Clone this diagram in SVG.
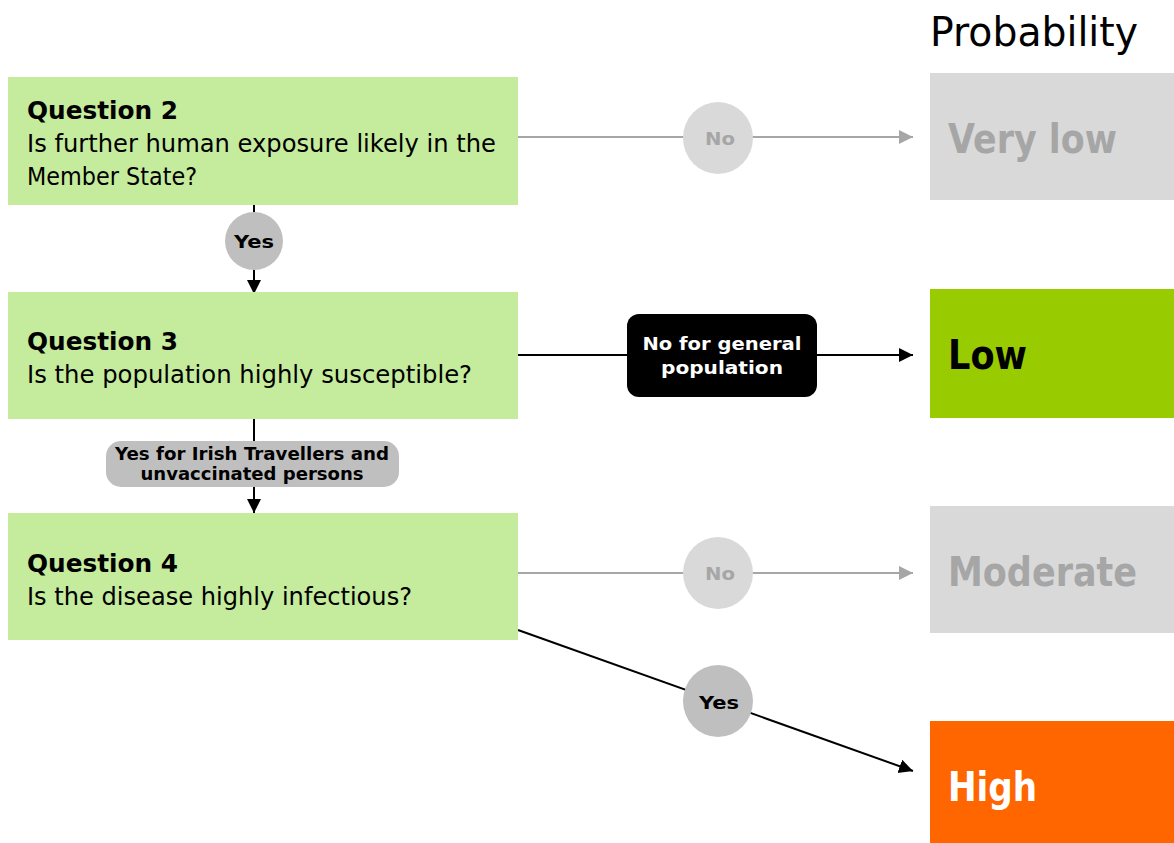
<svg xmlns="http://www.w3.org/2000/svg" width="1174" height="843" viewBox="0 0 1174 843">
<style>
text{font-family:"DejaVu Sans","Noto Sans",sans-serif;}
.q{fill:#c5eb9d;}
.qt{font-size:25px;font-weight:bold;fill:#000;}
.qb{font-size:25px;fill:#000;}
.res{font-size:40px;font-weight:bold;}
.lbl{font-size:18px;font-weight:bold;text-anchor:middle;}
.blk{stroke:#000;stroke-width:2;fill:none;}
.gry{stroke:#a6a6a6;stroke-width:2;fill:none;}
</style>
<defs>
<marker id="ab" markerWidth="16" markerHeight="16" refX="14" refY="7" orient="auto" markerUnits="userSpaceOnUse"><path d="M0,0 L14,7 L0,14 Z" fill="#000"/></marker>
<marker id="ag" markerWidth="16" markerHeight="16" refX="14" refY="7" orient="auto" markerUnits="userSpaceOnUse"><path d="M0,0 L14,7 L0,14 Z" fill="#a6a6a6"/></marker>
</defs>
<rect width="1174" height="843" fill="#fff"/>
<text x="930" y="46" font-size="40" textLength="208" lengthAdjust="spacingAndGlyphs">Probability</text>

<g id="connectors">
<line class="gry" x1="518" y1="137" x2="913" y2="137" marker-end="url(#ag)"/>
<line class="blk" x1="254" y1="205" x2="254" y2="294" marker-end="url(#ab)"/>
<line class="blk" x1="518" y1="355" x2="913" y2="355" marker-end="url(#ab)"/>
<line class="blk" x1="254" y1="419" x2="254" y2="513" marker-end="url(#ab)"/>
<line class="gry" x1="518" y1="573" x2="913" y2="573" marker-end="url(#ag)"/>
<line class="blk" x1="518" y1="630" x2="913" y2="771" marker-end="url(#ab)"/>
<g id="lbl-q2-no"><ellipse cx="718" cy="138" rx="35" ry="36" fill="#d9d9d9"/><text class="lbl" x="720" y="145" fill="#a6a6a6" textLength="30" lengthAdjust="spacingAndGlyphs">No</text></g>
<g id="lbl-q2-yes"><circle cx="254" cy="241" r="29" fill="#bfbfbf"/><text class="lbl" x="254" y="248" fill="#000" textLength="40" lengthAdjust="spacingAndGlyphs">Yes</text></g>
<g id="lbl-q3-no"><rect x="627" y="314" width="190" height="83" rx="12" fill="#000"/><text class="lbl" x="722" y="350" fill="#fff" font-size="20" textLength="159" lengthAdjust="spacingAndGlyphs">No for general</text><text class="lbl" x="722" y="374" fill="#fff" font-size="20" textLength="122" lengthAdjust="spacingAndGlyphs">population</text></g>
<g id="lbl-q3-yes"><rect x="106" y="441" width="293" height="46" rx="15" fill="#bfbfbf"/><text class="lbl" x="252" y="460" fill="#000" font-size="16" textLength="274" lengthAdjust="spacingAndGlyphs">Yes for Irish Travellers and</text><text class="lbl" x="252" y="480" fill="#000" font-size="16" textLength="223" lengthAdjust="spacingAndGlyphs">unvaccinated persons</text></g>
<g id="lbl-q4-no"><ellipse cx="718" cy="573" rx="35" ry="36" fill="#d9d9d9"/><text class="lbl" x="720" y="580" fill="#a6a6a6" textLength="30" lengthAdjust="spacingAndGlyphs">No</text></g>
<g id="lbl-q4-yes"><ellipse cx="718" cy="701" rx="35" ry="36" fill="#bfbfbf"/><text class="lbl" x="719" y="709" fill="#000" font-size="20" textLength="40" lengthAdjust="spacingAndGlyphs">Yes</text></g>
</g>

<g id="q2"><rect class="q" x="8" y="77" width="510" height="128"/>
<text class="qt" x="27" y="119" textLength="151" lengthAdjust="spacingAndGlyphs">Question 2</text>
<text class="qb" x="27" y="152" textLength="469" lengthAdjust="spacingAndGlyphs">Is further human exposure likely in the</text>
<text class="qb" x="27" y="185" textLength="170" lengthAdjust="spacingAndGlyphs">Member State?</text></g>

<g id="q3"><rect class="q" x="8" y="292" width="510" height="127"/>
<text class="qt" x="27" y="350" textLength="151" lengthAdjust="spacingAndGlyphs">Question 3</text>
<text class="qb" x="27" y="383" textLength="445" lengthAdjust="spacingAndGlyphs">Is the population highly susceptible?</text></g>

<g id="q4"><rect class="q" x="8" y="513" width="510" height="127"/>
<text class="qt" x="27" y="572" textLength="151" lengthAdjust="spacingAndGlyphs">Question 4</text>
<text class="qb" x="27" y="605" textLength="385" lengthAdjust="spacingAndGlyphs">Is the disease highly  infectious?</text></g>

<g id="very-low"><rect x="930" y="73" width="244" height="127" fill="#d9d9d9"/>
<text class="res" x="948" y="153" fill="#a6a6a6" textLength="169" lengthAdjust="spacingAndGlyphs">Very low</text></g>
<g id="low"><rect x="930" y="289" width="244" height="129" fill="#99cc00"/>
<text class="res" x="948" y="369" fill="#000" textLength="79" lengthAdjust="spacingAndGlyphs">Low</text></g>
<g id="moderate"><rect x="930" y="506" width="244" height="127" fill="#d9d9d9"/>
<text class="res" x="948" y="586" fill="#a6a6a6" textLength="189" lengthAdjust="spacingAndGlyphs">Moderate</text></g>
<g id="high"><rect x="930" y="721" width="244" height="122" fill="#ff6600"/>
<text class="res" x="948" y="801" fill="#fff" textLength="89" lengthAdjust="spacingAndGlyphs">High</text></g>
</svg>
